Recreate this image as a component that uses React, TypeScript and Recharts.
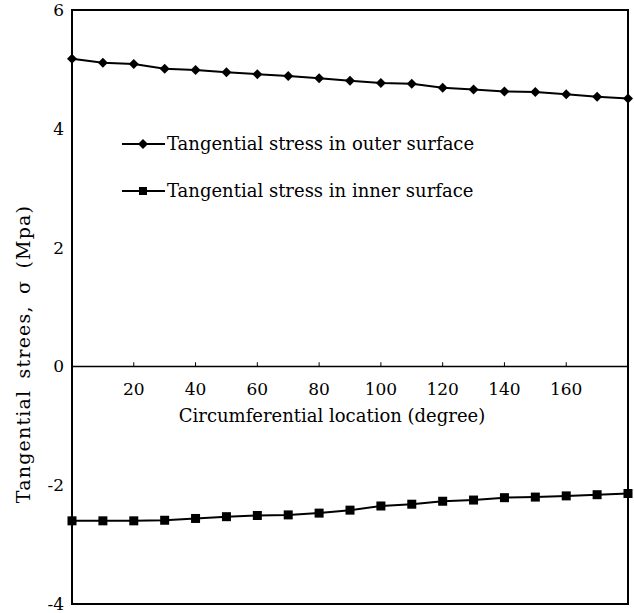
import React from "react";
import {
  LineChart,
  Line,
  XAxis,
  YAxis,
  ReferenceArea,
  ReferenceLine,
  ReferenceDot,
} from "recharts";

const angles = [0, 10, 20, 30, 40, 50, 60, 70, 80, 90, 100, 110, 120, 130, 140, 150, 160, 170, 180];
const outerStress = [5.18, 5.11, 5.09, 5.01, 4.99, 4.95, 4.92, 4.89, 4.85, 4.81, 4.77, 4.76, 4.69, 4.66, 4.63, 4.62, 4.58, 4.54, 4.51];
const innerStress = [-2.6, -2.6, -2.6, -2.59, -2.56, -2.53, -2.51, -2.5, -2.47, -2.42, -2.35, -2.32, -2.27, -2.25, -2.21, -2.2, -2.18, -2.16, -2.14];
const xTicks = [20, 40, 60, 80, 100, 120, 140, 160];
const yTicks = [-4, -2, 0, 2, 4, 6];
const seriesNames = ["Tangential stress in outer surface", "Tangential stress in inner surface"];
const xLabel = "Circumferential location (degree)";
const yLabel = "Tangential strees, \u03C3 (Mpa)";

const data = angles.map((a, i) => ({ angle: a, outer: outerStress[i], inner: innerStress[i] }));

const FONT = "'DejaVu Serif', 'Liberation Serif', serif";

const Diamond = (props: any) => {
  const { cx, cy } = props;
  if (cx == null || cy == null) return null;
  const r = 5;
  return <polygon points={`${cx},${cy - r} ${cx + r},${cy} ${cx},${cy + r} ${cx - r},${cy}`} fill="#000" />;
};

const Square = (props: any) => {
  const { cx, cy } = props;
  if (cx == null || cy == null) return null;
  const r = 4.5;
  return <rect x={cx - r} y={cy - r} width={2 * r} height={2 * r} fill="#000" />;
};

const LegendBox = () => (
  <div
    style={{
      position: "absolute",
      top: 120,
      left: 120,
      fontFamily: FONT,
      fontSize: 18,
      color: "#000",
      lineHeight: "22px",
    }}
  >
    {seriesNames.map((n, i) => (
      <div key={n} style={{ display: "flex", alignItems: "center", height: 47 }}>
        <svg width={46} height={14} style={{ marginRight: 1 }}>
          <line x1={2} y1={7} x2={45} y2={7} stroke="#000" strokeWidth={2} />
          {i === 0 ? (
            <polygon points="23,2 28,7 23,12 18,7" fill="#000" />
          ) : (
            <rect x={19} y={3} width={8} height={8} fill="#000" />
          )}
        </svg>
        <span>{n}</span>
      </div>
    ))}
  </div>
);

export default function App() {
  return (
    <div style={{ position: "absolute", left: 0, top: 0, width: 634, height: 613, background: "#fff" }}>
      <LineChart
        width={634}
        height={613}
        data={data}
        margin={{ top: 10, right: 6, bottom: 9, left: 0 }}
        style={{ fontFamily: FONT }}
      >
        <XAxis dataKey="angle" type="number" domain={[0, 180]} hide />
        <YAxis
          type="number"
          domain={[-4, 6]}
          ticks={yTicks}
          interval={0}
          width={72}
          axisLine={false}
          tickLine={false}
          tick={{ fill: "#000", fontSize: 17, fontFamily: FONT }}
          label={{
            content: (p: any) => {
              const vb = p.viewBox || {};
              const x = (vb.x || 0) + 23;
              const y = (vb.y || 0) + (vb.height || 0) / 2 + 47;
              return (
                <text
                  x={x}
                  y={y}
                  transform={`rotate(-90, ${x}, ${y})`}
                  textAnchor="middle"
                  dominantBaseline="central"
                  fontSize={19}
                  letterSpacing={1.2}
                  wordSpacing={4}
                  fontFamily={FONT}
                  fill="#000"
                >
                  {yLabel}
                </text>
              );
            },
          }}
        />
        <ReferenceArea
          x1={0}
          x2={180}
          y1={-4}
          y2={6}
          fill="none"
          fillOpacity={0}
          stroke="#000"
          strokeWidth={2}
          ifOverflow="visible"
        />
        <ReferenceLine
          y={0}
          stroke="#000"
          strokeWidth={1.5}
          label={{
            content: (p: any) => {
              const vb = p.viewBox || {};
              return (
                <text
                  x={(vb.x || 0) + (vb.width || 0) / 2 - 18}
                  y={(vb.y || 0) + 56}
                  textAnchor="middle"
                  fontSize={18}
                  fontFamily={FONT}
                  fill="#000"
                >
                  {xLabel}
                </text>
              );
            },
          }}
        />
        {xTicks.map((t) => (
          <ReferenceLine
            key={`tl${t}`}
            segment={[
              { x: t, y: 0 },
              { x: t, y: 0.07 },
            ]}
            stroke="#000"
            strokeWidth={1}
          />
        ))}
        {xTicks.map((t) => (
          <ReferenceDot
            key={`td${t}`}
            x={t}
            y={0}
            r={0}
            fill="none"
            stroke="none"
            label={{
              content: (p: any) => {
                const vb = p.viewBox || {};
                return (
                  <text
                    x={(vb.x || 0) + (vb.width || 0) / 2}
                    y={(vb.y || 0) + 29}
                    textAnchor="middle"
                    fontSize={17}
                    fontFamily={FONT}
                    fill="#000"
                  >
                    {t}
                  </text>
                );
              },
            }}
          />
        ))}
        <Line
          type="linear"
          dataKey="outer"
          name={seriesNames[0]}
          stroke="#000"
          strokeWidth={2}
          dot={<Diamond />}
          isAnimationActive={false}
        />
        <Line
          type="linear"
          dataKey="inner"
          name={seriesNames[1]}
          stroke="#000"
          strokeWidth={2}
          dot={<Square />}
          isAnimationActive={false}
        />
      </LineChart>
      <LegendBox />
    </div>
  );
}
